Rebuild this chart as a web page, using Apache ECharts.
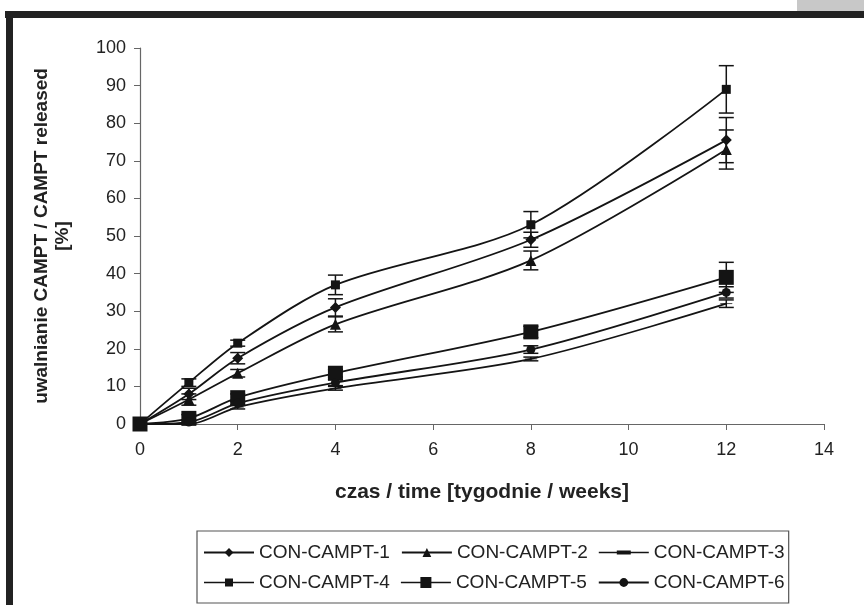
<!DOCTYPE html>
<html>
<head>
<meta charset="utf-8">
<script src="https://cdn.jsdelivr.net/npm/echarts@6/dist/echarts.min.js"></script>
<style>
  html, body { margin: 0; padding: 0; background: #fff; }
  #chart { width: 864px; height: 605px; }
</style>
</head>
<body>
<div id="chart"></div>
<script>
// time points (weeks)
const weeks = [0, 1, 2, 4, 8, 12];

const seriesNames = ["CON-CAMPT-1", "CON-CAMPT-2", "CON-CAMPT-3", "CON-CAMPT-4", "CON-CAMPT-5", "CON-CAMPT-6"];

// released %
const camp1 = [0, 8, 17.5, 31, 49, 75.5];
const camp2 = [0, 6.5, 13.5, 26.5, 43.5, 73];
const camp3 = [0, 0, 4.5, 9.5, 17.3, 32];
const camp4 = [0, 11, 21.5, 37, 53, 89];
const camp5 = [0, 1.5, 7, 13.5, 24.5, 39];
const camp6 = [0, 0.5, 5.5, 11, 19.8, 35];

// +/- error (estimated)
const err1 = [0, 1.5, 1.5, 2.3, 2, 6];
const err2 = [0, 1.5, 1, 2, 2.5, 5.2];
const err3 = [0, 0, 0.5, 0.5, 0.5, 1];
const err4 = [0, 1, 0.8, 2.6, 3.5, 6.3];
const err5 = [0, 1, 1, 1, 1.5, 4];
const err6 = [0, 0.5, 0.5, 0.8, 1, 1.5];

const values = [camp1, camp2, camp3, camp4, camp5, camp6];
const errors = [err1, err2, err3, err4, err5, err6];
const dash = "path://M0,0H12V3H0Z";
const symbols = ["diamond", "triangle", dash, "rect", "rect", "circle"];
const symbolSizes = [11, 11, [12, 3], 9, 15, 9];

// legend icons (line + marker) for the ones the default icon gets wrong
const corners = "M0,0H0.05V0.05H0Z M49.95,10.95H50V11H49.95Z ";
const lineBar = "M0,4.7H50V6.3H0Z ";
const legendIcons = {
  "CON-CAMPT-3": "path://" + corners + lineBar + "M18,3.6H32V7.4H18Z",
  "CON-CAMPT-4": "path://" + corners + lineBar + "M21,1.5H29V9.5H21Z",
  "CON-CAMPT-5": "path://" + corners + lineBar + "M19.5,0H30.5V11H19.5Z",
};

const ink = "#141414";

const myChart = echarts.init(document.getElementById("chart"), null, { renderer: "canvas" });

let series = values.map((v, i) => ({
  name: seriesNames[i],
  type: "line",
  smooth: 0.3,
  data: weeks.map((w, j) => [w, v[j]]),
  symbol: symbols[i],
  symbolSize: symbolSizes[i],
  symbolKeepAspect: true,
  showSymbol: true,
  itemStyle: { color: ink },
  lineStyle: { color: ink, width: 1.8 },
  z: 3,
}));

// error bars
function renderErr(params, api) {
  const x = api.value(0), lo = api.value(1), hi = api.value(2);
  const a = api.coord([x, hi]);
  const b = api.coord([x, lo]);
  const w = 7.5;
  const st = { stroke: ink, lineWidth: 1.5 };
  return {
    type: "group",
    children: [
      { type: "line", shape: { x1: a[0], y1: a[1], x2: b[0], y2: b[1] }, style: st },
      { type: "line", shape: { x1: a[0] - w, y1: a[1], x2: a[0] + w, y2: a[1] }, style: st },
      { type: "line", shape: { x1: b[0] - w, y1: b[1], x2: b[0] + w, y2: b[1] }, style: st },
    ],
  };
}

values.forEach((v, i) => {
  const d = [];
  weeks.forEach((w, j) => {
    if (errors[i][j] > 0) d.push([w, v[j] - errors[i][j], v[j] + errors[i][j]]);
  });
  series.push({
    type: "custom",
    renderItem: renderErr,
    data: d,
    encode: { x: 0, y: [1, 2] },
    silent: true,
    z: 2,
  });
});

const tickFont = { fontFamily: "Liberation Sans, Arial", fontSize: 18, color: "#222" };
const titleFont = "bold 19px 'Liberation Sans', Arial";

let option = {
  backgroundColor: "#fff",
  animation: false,
  grid: { left: 140, right: 40, top: 48, bottom: 181 },
  xAxis: {
    type: "value",
    min: 0, max: 14, interval: 2,
    axisLine: { lineStyle: { color: "#666", width: 1.2 } },
    axisTick: { show: true, length: 6, lineStyle: { color: "#666" } },
    splitLine: { show: false },
    axisLabel: Object.assign({ margin: 17 }, tickFont),
  },
  yAxis: {
    type: "value",
    min: 0, max: 100, interval: 10,
    axisLine: { show: true, lineStyle: { color: "#666", width: 1.2 } },
    axisTick: { show: true, length: 6, lineStyle: { color: "#666" } },
    splitLine: { show: false },
    axisLabel: Object.assign({ margin: 14 }, tickFont),
  },
  legend: {
    data: seriesNames.map((n) => (legendIcons[n] ? { name: n, icon: legendIcons[n] } : n)),
    left: 197, top: 531,
    width: 593,
    padding: [12, 4, 11, 6],
    itemWidth: 50, itemHeight: 11,
    itemGap: 11,
    borderColor: "#555", borderWidth: 1.2,
    textStyle: { fontFamily: "Liberation Sans, Arial", fontSize: 19, color: "#222" },
    selectedMode: false,
  },
  graphic: [
    { type: "rect", shape: { x: 797, y: 0, width: 67, height: 11 }, style: { fill: "#c8c8c8" } },
    { type: "rect", shape: { x: 5, y: 11, width: 859, height: 7 }, style: { fill: "#222" } },
    { type: "rect", shape: { x: 6, y: 11, width: 7, height: 594 }, style: { fill: "#222" } },
    {
      type: "text", x: 42, y: 236, rotation: Math.PI / 2,
      style: { text: "uwalnianie CAMPT / CAMPT released", font: titleFont, fill: "#222", textAlign: "center", textVerticalAlign: "middle" },
    },
    {
      type: "text", x: 63, y: 236, rotation: Math.PI / 2,
      style: { text: "[%]", font: titleFont, fill: "#222", textAlign: "center", textVerticalAlign: "middle" },
    },
    {
      type: "text", x: 482, y: 492,
      style: { text: "czas / time [tygodnie / weeks]", font: "bold 21px 'Liberation Sans', Arial", fill: "#222", textAlign: "center", textVerticalAlign: "middle" },
    },
  ],
  series,
};

option && myChart.setOption(option);
</script>
</body>
</html>
